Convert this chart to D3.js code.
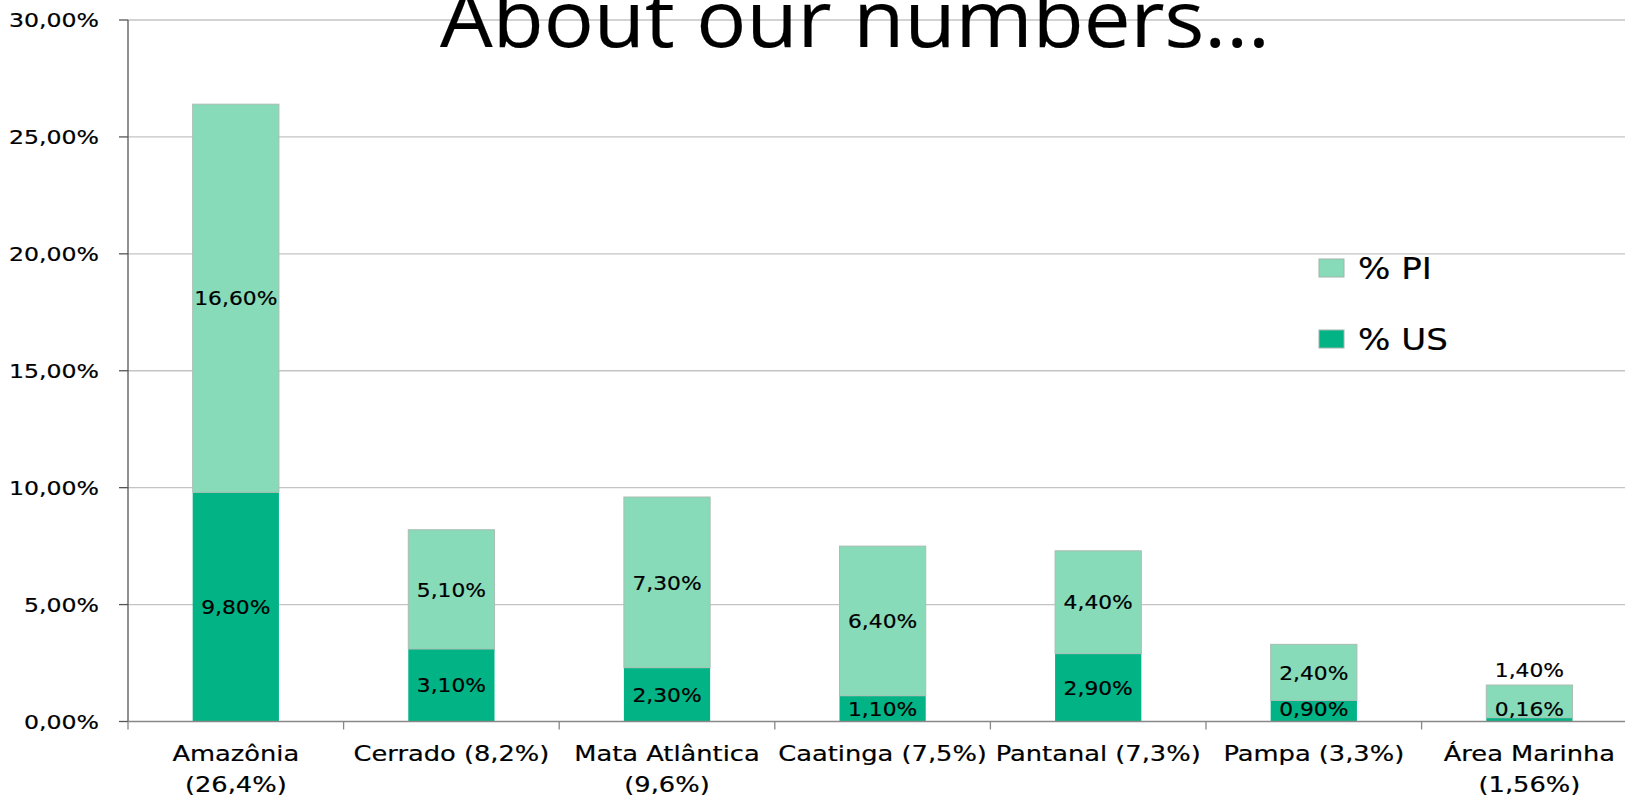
<!DOCTYPE html>
<html>
<head>
<meta charset="utf-8">
<script src="https://cdn.jsdelivr.net/npm/d3@7"></script>
<style>
  html, body { margin: 0; padding: 0; background: #fff; }
  svg { display: block; }
  text { font-family: "DejaVu Sans", Verdana, sans-serif; fill: #000; stroke: #000; stroke-width: 0.2px; }
</style>
</head>
<body>
<svg id="chart" width="1625" height="801"></svg>
<script>
// ---- data ----
const categories = ["Amazônia", "Cerrado", "Mata Atlântica", "Caatinga", "Pantanal", "Pampa", "Área Marinha"];
const categoryLabels = [
  ["Amazônia", "(26,4%)"],
  ["Cerrado (8,2%)"],
  ["Mata Atlântica", "(9,6%)"],
  ["Caatinga (7,5%)"],
  ["Pantanal (7,3%)"],
  ["Pampa (3,3%)"],
  ["Área Marinha", "(1,56%)"]
];
const usValues = [0.098, 0.031, 0.023, 0.011, 0.029, 0.009, 0.0016];
const piValues = [0.166, 0.051, 0.073, 0.064, 0.044, 0.024, 0.014];
const yTicks = [0, 0.05, 0.10, 0.15, 0.20, 0.25, 0.30];
const seriesNames = ["% US", "% PI"];
const chartTitle = "About our numbers...";

// ---- layout ----
const W = 1625, H = 801;
const mLeft = 128, mTop = 20, mBottom = 721.5;
const stepW = 215.6;
const mRight = mLeft + categories.length * stepW;
const colorUS = "#02b386", colorPI = "#87dbb8";

const svg = d3.select("#chart");
const locale = d3.formatLocale({decimal: ",", thousands: ".", grouping: [3], currency: ["R$", ""]});
const fmt = locale.format(".2%");

const x = d3.scaleBand().domain(categories).range([mLeft, mRight]).paddingInner(0.6).paddingOuter(0.3);
const y = d3.scaleLinear().domain([0, 0.30]).range([mBottom, mTop]);
const gap = (x.step() - x.bandwidth()) / 2;

// gridlines
svg.append("g").selectAll("line").data(yTicks.filter(d => d > 0)).join("line")
  .attr("x1", mLeft).attr("x2", W)
  .attr("y1", d => y(d)).attr("y2", d => y(d))
  .attr("stroke", "#c4c4c4").attr("stroke-width", 1.3);

// stacked data
const rows = categories.map((c, i) => ({cat: c, us: usValues[i], pi: piValues[i]}));
const stack = d3.stack().keys(["us", "pi"])(rows);
const colors = {us: colorUS, pi: colorPI};

svg.append("g").selectAll("g").data(stack).join("g")
  .attr("fill", s => colors[s.key])
  .selectAll("rect").data(s => s.map(d => Object.assign(d, {key: s.key}))).join("rect")
  .attr("x", d => x(d.data.cat))
  .attr("width", x.bandwidth())
  .attr("y", d => y(d[1]))
  .attr("height", d => y(d[0]) - y(d[1]))
  .attr("stroke", d => d.key === "pi" ? "#a9bdb3" : "none")
  .attr("stroke-width", 1);

// axes
const yAxisG = svg.append("g");
yAxisG.append("line").attr("x1", mLeft).attr("x2", mLeft).attr("y1", mTop).attr("y2", mBottom)
  .attr("stroke", "#555").attr("stroke-width", 1.3);
yAxisG.selectAll("line.tick").data(yTicks).join("line").attr("class", "tick")
  .attr("x1", mLeft - 9).attr("x2", mLeft).attr("y1", d => y(d)).attr("y2", d => y(d))
  .attr("stroke", "#555").attr("stroke-width", 1.3);
yAxisG.selectAll("text").data(yTicks).join("text")
  .attr("transform", d => `translate(99,${y(d)}) scale(1.18,1)`)
  .attr("text-anchor", "end").attr("dy", "0.36em")
  .style("font-size", "20px")
  .text(d => fmt(d));

const xAxisG = svg.append("g");
xAxisG.append("line").attr("x1", mLeft).attr("x2", W).attr("y1", mBottom).attr("y2", mBottom)
  .attr("stroke", "#888").attr("stroke-width", 1.3);
const boundaries = categories.map(c => x(c) - gap).concat([x(categories[categories.length - 1]) + x.bandwidth() + gap]);
xAxisG.selectAll("line.tick").data(boundaries).join("line").attr("class", "tick")
  .attr("x1", d => d).attr("x2", d => d).attr("y1", mBottom).attr("y2", mBottom + 8)
  .attr("stroke", "#888").attr("stroke-width", 1.3);
categories.forEach((c, i) => {
  const cx = x(c) + x.bandwidth() / 2;
  categoryLabels[i].forEach((line, j) => {
    xAxisG.append("text")
      .attr("transform", `translate(${cx},${761 + j * 31}) scale(1.18,1)`)
      .attr("text-anchor", "middle")
      .style("font-size", "21.8px")
      .text(line);
  });
});

// data labels
const labelG = svg.append("g");
stack.forEach(s => {
  s.forEach(d => {
    const cx = x(d.data.cat) + x.bandwidth() / 2;
    const y0 = y(d[0]), y1 = y(d[1]);
    let cy = (y0 + y1) / 2;
    if (s.key === "pi" && (y0 - y1) < 40) cy = y1 - 15;
    cy = Math.min(cy, mBottom - 13);
    labelG.append("text")
      .attr("transform", `translate(${cx},${cy}) scale(1.09,1)`)
      .attr("text-anchor", "middle").attr("dy", "0.36em")
      .style("font-size", "20px")
      .text(fmt(d[1] - d[0]));
  });
});

// legend
const legendItems = [{name: seriesNames[1], color: colorPI, y: 259}, {name: seriesNames[0], color: colorUS, y: 330}];
const lg = svg.append("g");
legendItems.forEach(it => {
  lg.append("rect").attr("x", 1319).attr("y", it.y).attr("width", 25).attr("height", 18)
    .attr("fill", it.color).attr("stroke", "#9fb5aa").attr("stroke-width", 1);
  lg.append("text")
    .attr("transform", `translate(1358,${it.y + 19.5}) scale(1.1,1)`)
    .style("font-size", "31px")
    .text(it.name);
});

// title
svg.append("text")
  .attr("x", 855).attr("y", 47)
  .attr("text-anchor", "middle")
  .attr("textLength", 830).attr("lengthAdjust", "spacingAndGlyphs")
  .style("font-family", "'Open Sans', 'Noto Sans', sans-serif")
  .style("font-size", "78px")
  .style("fill", "#000")
  .text(chartTitle);
</script>
</body>
</html>
